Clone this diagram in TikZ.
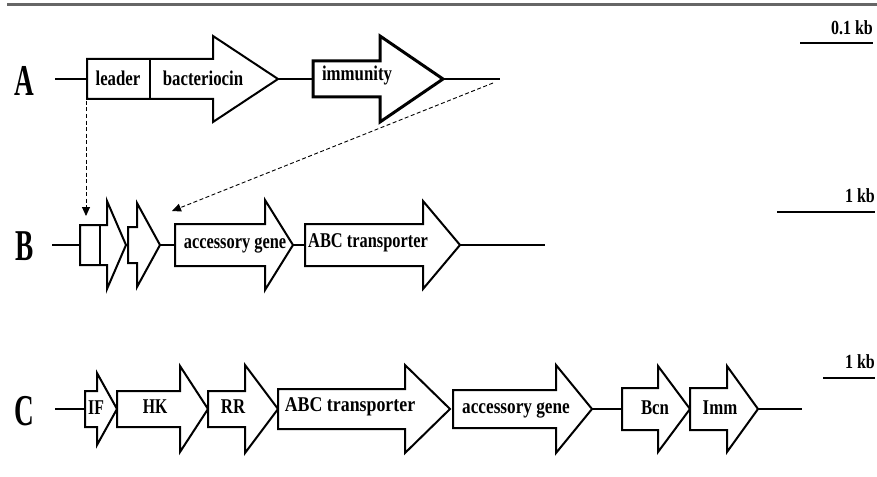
\documentclass[tikz,border=0pt]{standalone}
\usepackage{fontspec}
\setmainfont{Liberation Serif}
\usetikzlibrary{arrows.meta}
\newcommand{\cnd}[2][0.8]{\scalebox{#1}[1]{#2}}
% name, x start, x head base, x tip, y axis, body half height, head half height, extra style
\newcommand{\genearrow}[8]{%
  \draw[genestyle,#8] (#2,#5-#6) -- (#3,#5-#6) -- (#3,#5-#7) -- (#4,#5) -- (#3,#5+#7) -- (#3,#5+#6) -- (#2,#5+#6) -- cycle;
  \coordinate (#1-s) at (#2,#5);
  \coordinate (#1-t) at (#4,#5);
}
\begin{document}
\begin{tikzpicture}[x=1pt,y=-1pt,
  genestyle/.style={draw=black,line width=2pt,fill=white,line join=miter},
  backbone/.style={draw=black,line width=2pt},
  lab/.style={inner sep=0pt,font=\fontsize{21}{21}\selectfont\bfseries},
  rowlab/.style={inner sep=0pt,font=\fontsize{44}{44}\selectfont\bfseries},
  scalelab/.style={inner sep=0pt,anchor=east,font=\fontsize{20}{20}\selectfont\bfseries},
  scalebar/.style={draw=black,line width=2.5pt},
  dasharrow/.style={draw=black,line width=0.9pt,dash pattern=on 4pt off 2.5pt,-{Triangle[length=9pt,width=8pt]}}]
\useasboundingbox (0,0) rectangle (877,476);
% top rule
\coordinate (rule-l) at (7,5);
\coordinate (rule-r) at (877,5);
\draw[line width=3pt,draw=black!60] (rule-l) -- (rule-r);

% ---------- Row A ----------
\node[rowlab] (labA) at (24,81) {\cnd[0.62]{A}};
\coordinate (A-start) at (55,79);
\coordinate (A-end) at (500,79);
\genearrow{bac}{87}{213}{278}{79}{20}{43}{}
\genearrow{imm}{313}{380}{443}{79}{18}{43}{line width=3pt}
\coordinate (lead-top) at (150,59);
\coordinate (lead-bot) at (150,99);
\draw[line width=1.5pt] (lead-top) -- (lead-bot);
\draw[backbone] (A-start) -- (bac-s);
\draw[backbone] (bac-t) -- (imm-s);
\draw[backbone] (imm-t) -- (A-end);
\node[lab] (t-leader) at (118,78) {\cnd{leader}};
\node[lab] (t-bacteriocin) at (203,78) {\cnd{bacteriocin}};
\node[lab] (t-immunity) at (357,75) {\cnd{immunity}};

% ---------- Row B ----------
\node[rowlab] (labB) at (25,246) {\cnd[0.62]{B}};
\coordinate (B-start) at (52,245);
\coordinate (B-end) at (545,245);
\genearrow{g1}{80}{107}{126}{245}{20}{44}{}
\coordinate (div-top) at (100,225);
\coordinate (div-bot) at (100,265);
\draw[line width=2pt] (div-top) -- (div-bot);
\genearrow{g2}{128}{137}{160}{245}{18}{42}{}
\genearrow{accB}{175}{265}{293}{245}{21}{45}{}
\genearrow{abcB}{305}{423}{460}{245}{21}{44}{}
\draw[backbone] (B-start) -- (g1-s);
\draw[backbone] (g2-t) -- (accB-s);
\draw[backbone] (accB-t) -- (abcB-s);
\draw[backbone] (abcB-t) -- (B-end);
\node[lab] (t-accB) at (235,245) {\cnd[0.78]{accessory gene}};
\node[lab] (t-abcB) at (368,243) {\cnd[0.78]{ABC transporter}};

% dashed connectors
\coordinate (dash1-s) at (86,101);
\coordinate (dash1-e) at (86,216);
\draw[dasharrow] (dash1-s) -- (dash1-e);
\coordinate (dash2-s) at (493,83);
\coordinate (dash2-e) at (172,211);
\draw[dasharrow] (dash2-s) -- (dash2-e);

% ---------- Row C ----------
\node[rowlab] (labC) at (24,411) {\cnd[0.62]{C}};
\coordinate (C-start) at (55,409);
\coordinate (C-end) at (802,409);
\genearrow{if}{85}{97}{117}{409}{18}{36}{}
\genearrow{hk}{117}{180}{208}{409}{18}{43}{}
\genearrow{rr}{208}{245}{278}{409}{18}{44}{}
\genearrow{abcC}{278}{405}{450}{409}{20}{44}{}
\genearrow{accC}{453}{556}{592}{409}{19}{44}{}
\genearrow{bcn}{622}{658}{690}{409}{21}{43}{}
\genearrow{immC}{690}{727}{758}{409}{21}{43}{}
\draw[backbone] (C-start) -- (if-s);
\draw[backbone] (accC-t) -- (bcn-s);
\draw[backbone] (immC-t) -- (C-end);
\node[lab] (t-if) at (96,408) {\cnd[0.75]{IF}};
\node[lab] (t-hk) at (155,407) {\cnd[0.75]{HK}};
\node[lab] (t-rr) at (233,407) {\cnd[0.8]{RR}};
\node[lab] (t-abcC) at (350,407) {\cnd[0.85]{ABC transporter}};
\node[lab] (t-accC) at (516,410) {\cnd[0.82]{accessory gene}};
\node[lab] (t-bcn) at (655,408) {\cnd{Bcn}};
\node[lab] (t-immC) at (720,408) {\cnd{Imm}};

% ---------- scale bars ----------
\coordinate (sA-l) at (800,43);
\coordinate (sA-r) at (873,43);
\draw[scalebar] (sA-l) -- (sA-r);
\node[scalelab] (sA-t) at (873,28) {\cnd{0.1 kb}};
\coordinate (sB-l) at (777,212);
\coordinate (sB-r) at (875,212);
\draw[scalebar] (sB-l) -- (sB-r);
\node[scalelab] (sB-t) at (875,196) {\cnd{1 kb}};
\coordinate (sC-l) at (823,378);
\coordinate (sC-r) at (875,378);
\draw[scalebar] (sC-l) -- (sC-r);
\node[scalelab] (sC-t) at (875,362) {\cnd{1 kb}};
\end{tikzpicture}
\end{document}
